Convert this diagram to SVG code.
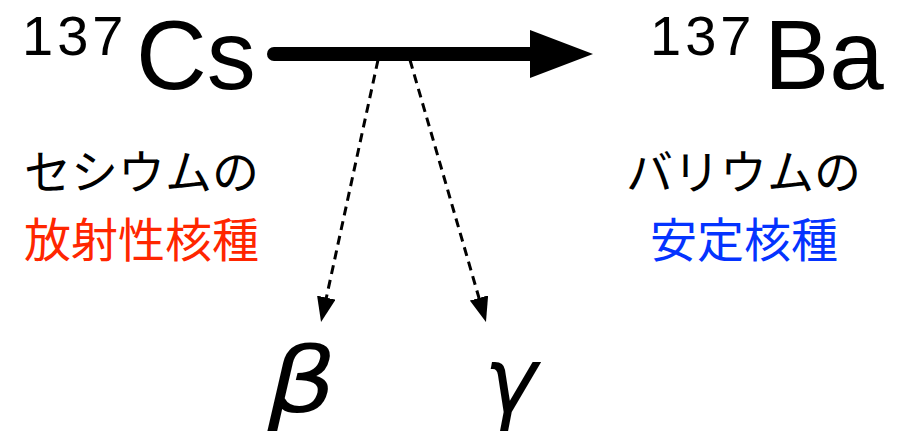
<svg xmlns="http://www.w3.org/2000/svg" width="905" height="434" viewBox="0 0 905 434">
<style>
.lat{font-family:"Liberation Sans","Noto Sans",sans-serif;fill:#000}
.sup{font-size:56px;letter-spacing:4px}
.big{font-size:98px}
.jp{font-family:"Noto Sans CJK JP",sans-serif;font-size:47px}
.greek{font-family:"DejaVu Sans",sans-serif;font-style:italic;font-size:90px;fill:#000}
.dash{stroke:#000;stroke-width:3;stroke-dasharray:9 6;fill:none}
</style>
<defs>
<marker id="bigHead" markerUnits="userSpaceOnUse" markerWidth="63" markerHeight="48" refX="5" refY="24" orient="auto" viewBox="0 0 63 48">
<path d="M0,0 L63,24 L0,48 z" fill="#000"/>
</marker>
<marker id="smallHead" markerUnits="userSpaceOnUse" markerWidth="25" markerHeight="19" refX="5" refY="9.5" orient="auto" viewBox="0 0 25 19">
<path d="M0,0 L25,9.5 L0,19 z" fill="#000"/>
</marker>
</defs>
<rect width="905" height="434" fill="#fff"/>
<g id="cs">
<text class="lat sup" x="22" y="55">137</text>
<text class="lat big" x="136" y="89">Cs</text>
<text class="jp" x="24" y="189" fill="#000">セシウムの</text>
<text class="jp" x="24" y="257" fill="#ff2600">放射性核種</text>
</g>
<g id="ba">
<text class="lat sup" x="650" y="55">137</text>
<text class="lat big" x="764" y="89">Ba</text>
<text class="jp" x="626" y="189" fill="#000">バリウムの</text>
<text class="jp" x="650" y="257" fill="#0433ff">安定核種</text>
</g>
<g id="beta"><text class="greek" x="223" y="412" transform="scale(1.2,1)">β</text></g>
<g id="gamma"><text class="greek" x="484" y="412">γ</text></g>
<g id="connectors">
<line x1="274" y1="54" x2="535" y2="54" stroke="#000" stroke-width="14" stroke-linecap="round" marker-end="url(#bigHead)"/>
<line class="dash" x1="378" y1="60" x2="325.3" y2="302.5" marker-end="url(#smallHead)"/>
<line class="dash" x1="410" y1="60" x2="480.4" y2="302.8" marker-end="url(#smallHead)"/>
</g>
</svg>
